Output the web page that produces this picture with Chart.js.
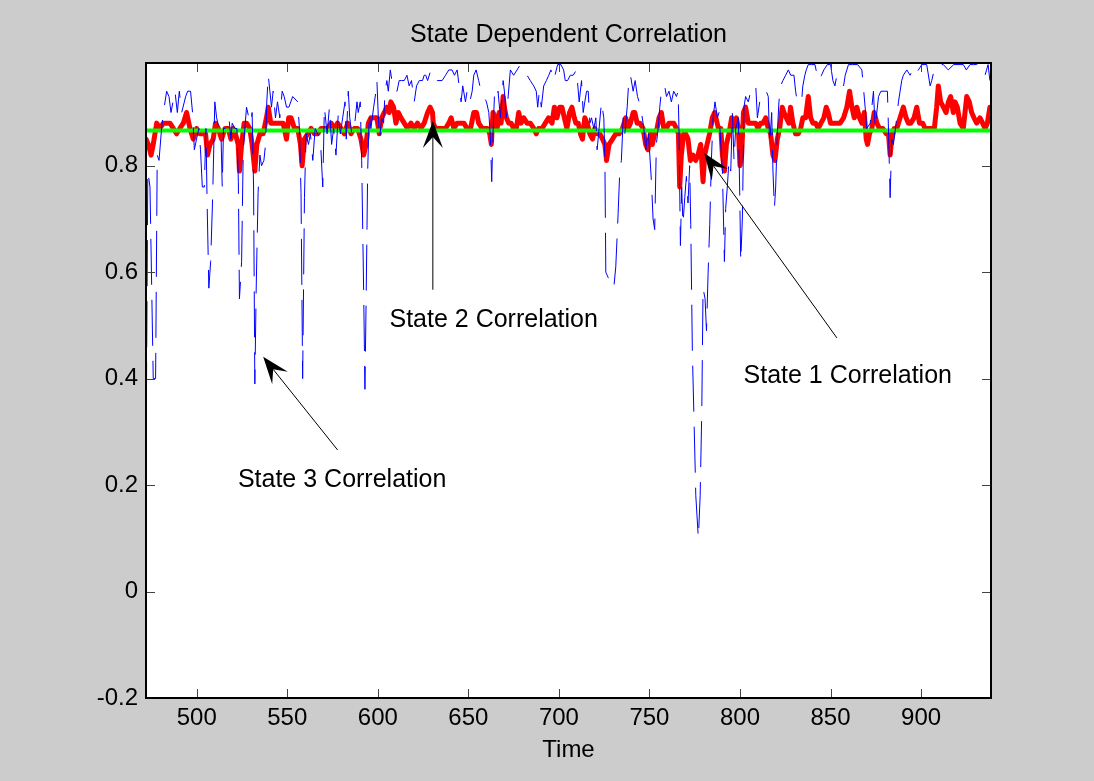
<!DOCTYPE html>
<html><head><meta charset="utf-8">
<script src="https://cdn.jsdelivr.net/npm/chart.js@4.4.1/dist/chart.umd.min.js"></script>
<style>html,body{margin:0;padding:0;background:#cccccc;overflow:hidden}canvas{display:block}</style>
</head><body>
<canvas id="c" width="1094" height="781"></canvas>
<script>
// ---------- data ----------
const chartTitle = 'State Dependent Correlation';
const xTitle = 'Time';
const xTicks = [500, 550, 600, 650, 700, 750, 800, 850, 900];
const yTicks = [-0.2, 0, 0.2, 0.4, 0.6, 0.8];

// thin blue dashed series
const blueTime = [
472,473,474.2,476,477.3,478.2,479.2,480.6,481.6,483.4,484.7,485.8,488,489.3,490.4,491.7,493.9,495,496.6,497.7,
498.7,499.9,501.2,502.1,503.1,504.2,505.1,505.8,506.7,507.7,508.8,510,511,512.3,513.4,514.1,514.8,515.9,517.8,518.9,
519.6,521.1,522.2,523,523.6,524.8,525.7,527.5,528.8,529.9,530.6,531.4,532.1,532.8,533.9,534.9,535.8,537.1,538,538.7,
539.5,540.4,541.3,542.2,543.5,544.6,545.9,547.2,548.3,549.6,550.9,
553.0,555.8,556.7,557.6,558.5,559.5,560.4,561.7,562.8,564.1,565.4,566.8,568.3,569.6,570.5,572.0,573.3,574.5,575.6,576.9,
578.2,579.3,580.6,581.9,582.6,583.7,584.5,585.6,587.0,588.5,589.2,590.3,591.1,592.2,592.9,593.6,594.4,595.3,596.2,597.7,
599.0,599.5,600.3,601.0,602.1,603.2,604.0,605.0,605.8,606.9,608.2,609.1,610.6,611.8,613.1,614.6,616.1,617.3,618.6,620.1,
621.4,622.9,624.7,625.6,626.5,627.5,629.3,
630.9,632.8,635.5,637.4,639.2,641.0,642.3,643.8,645.3,646.0,646.9,648.4,649.3,650.8,652.1,653.0,654.3,655.7,657.0,658.5,
660.0,661.3,662.2,662.9,663.6,664.4,665.5,666.4,667.7,669.2,669.9,671.0,673.2,675.0,676.9,678.7,680.6,682.4,684.2,686.1,
687.5,688.3,689.2,690.3,691.6,693.1,694.4,695.6,697.1,699.3,701.1,702.6,703.5,704.8,706.3,
707.9,709.7,711.2,712.5,713.4,714.3,715.3,716.2,717.1,718.0,719.3,720.4,721.1,722.2,723.5,724.8,725.4,725.9,727.2,729.0,
730.3,731.4,732.7,733.6,734.5,735.5,736.4,737.7,738.6,739.5,741.0,742.1,743.4,744.3,745.6,746.9,748.0,749.2,750.2,751.1,
752.0,752.9,753.8,754.8,755.7,756.6,757.5,758.4,759.4,760.8,762.1,763.4,764.9,765.8,766.3,767.1,767.8,768.5,769.5,770.4,
771.3,772.2,
772.8,773.7,774.7,775.6,777.0,778.0,778.9,779.6,780.7,781.5,782.4,783.3,784.2,785.1,786.2,787.5,788.4,789.4,790.3,791.4,
792.1,793.0,793.9,794.9,795.8,796.7,797.6,799.1,799.8,800.4,801.3,802.2,803.1,804.6,805.9,806.8,807.7,808.7,809.6,810.9,
812.3,813.2,814.5,815.6,816.4,817.5,818.2,819.0,819.7,820.6,821.5,822.4,823.7,825.2,826.7,828.0,829.8,830.7,831.6,832.9,
834.0,834.7,835.8,836.6,837.7,839.5,841.4,842.6,843.9,845.0,846.3,848.2,850.0,851.3,852.4,
853.5,855.3,857.2,858.1,859.9,862,865,867.3,869.1,870.0,871.9,873.7,874.6,876.5,877.8,880.1,881.4,881.9,882.9,883.8,
884.7,886.2,887.5,889.3,890.2,892.1,893.9,895.4,896.7,898.5,900.4,903.1,905.0,905.9,907.2,908.6,910.5,912.3,915,918,
921.5,923.3,925,927.0,929,930.7,932.5,934.4,935.3,937,938];
const blueCorr = [
0.23,0.79,0.76,0.40,0.40,0.82,0.81,0.87,0.90,0.94,0.93,0.90,0.94,0.90,0.94,0.90,0.93,0.94,0.94,0.90,
0.83,0.85,0.87,0.83,0.76,0.76,0.87,0.72,0.57,0.62,0.74,0.92,0.89,0.87,0.86,0.76,0.87,0.87,0.89,0.85,
0.88,0.87,0.87,0.77,0.55,0.62,0.83,0.91,0.89,0.88,0.90,0.76,0.39,0.56,0.75,0.82,0.80,0.81,0.84,0.92,
0.97,0.94,0.91,0.94,0.89,0.92,0.89,0.94,0.93,0.91,0.91,
0.93,0.92,0.87,0.75,0.40,0.74,0.86,0.84,0.86,0.81,0.87,0.86,0.85,0.76,0.91,0.86,0.91,0.84,0.87,0.82,
0.90,0.86,0.89,0.92,0.85,0.94,0.89,0.86,0.87,0.92,0.90,0.92,0.81,0.56,0.38,0.56,0.79,0.90,0.87,0.91,
0.94,0.96,0.89,0.85,0.89,0.88,0.94,0.96,0.94,0.98,0.95,0.94,0.94,0.96,0.96,0.96,0.97,0.95,0.96,0.92,
0.95,0.96,0.96,0.97,0.97,0.96,0.98,
0.97,0.96,0.96,0.97,0.98,0.98,0.97,0.98,0.94,0.92,0.95,0.92,0.94,0.92,0.94,0.97,0.98,0.96,0.94,0.93,
0.92,0.90,0.85,0.77,0.86,0.93,0.92,0.94,0.89,0.96,0.94,0.89,0.98,0.97,0.98,0.99,0.98,0.97,0.96,0.95,
0.94,0.91,0.94,0.91,0.95,0.96,0.97,0.98,0.96,0.99,0.99,0.98,0.96,0.96,0.97,
0.97,0.98,0.92,0.96,0.90,0.92,0.94,0.94,0.88,0.89,0.87,0.89,0.83,0.87,0.92,0.89,0.81,0.60,0.59,0.58,
0.57,0.61,0.71,0.79,0.81,0.89,0.86,0.91,0.96,0.97,0.94,0.96,0.93,0.92,0.90,0.87,0.83,0.87,0.82,0.77,
0.70,0.68,0.84,0.87,0.91,0.94,0.94,0.95,0.93,0.94,0.92,0.94,0.93,0.94,0.87,0.65,0.76,0.69,0.74,0.78,
0.73,0.80,
0.69,0.45,0.31,0.18,0.10,0.18,0.34,0.57,0.55,0.49,0.60,0.69,0.81,0.89,0.92,0.89,0.90,0.84,0.79,0.62,
0.72,0.76,0.81,0.79,0.90,0.81,0.87,0.89,0.76,0.62,0.70,0.91,0.93,0.92,0.94,0.94,0.94,0.95,0.89,0.92,
0.93,0.94,0.94,0.93,0.84,0.90,0.79,0.72,0.76,0.86,0.92,0.95,0.96,0.97,0.98,0.97,0.97,0.94,0.92,0.92,
0.92,0.95,0.97,0.98,0.99,0.99,0.99,0.97,0.96,0.97,0.98,0.99,0.99,0.96,0.95,
0.97,0.96,0.95,0.97,0.99,0.99,0.99,0.98,0.91,0.87,0.88,0.94,0.87,0.93,0.94,0.94,0.94,0.88,0.74,0.85,
0.84,0.88,0.92,0.96,0.97,0.98,0.97,0.98,0.97,0.98,0.99,0.99,0.95,0.96,0.98,0.99,0.99,0.99,0.98,0.99,
0.99,0.99,0.98,0.99,0.99,0.99,0.99,0.98,0.97,0.99,0.96];

// thick red series
const redTime = [
472,473.3,474.8,476.0,477.9,479.7,481.6,483.4,485.2,487.1,488.9,490.7,492.6,494.4,496.3,498.1,499.9,501.8,503.6,504.9,
506.0,507.3,509.1,510.4,511.9,513.7,515.6,517.4,518.9,520.1,521.4,522.9,523.6,524.8,526.2,527.5,529.3,530.6,532.1,533.2,
534.9,536.7,538.5,539.5,540.9,542.2,544.0,545.9,547.7,549.6,550.8,
552.1,554.0,555.8,557.3,558.2,559.5,561.3,563.1,565.0,566.8,568.7,570.5,572.3,574.2,576.0,577.8,579.7,581.5,583.4,585.2,
587.0,588.9,590.7,592.2,593.5,594.8,596.2,598.1,599.5,600.8,602.1,603.6,605.0,606.3,607.2,608.7,610.0,611.3,612.8,614.6,
616.4,618.3,620.1,621.9,623.8,625.6,627.5,628.9,630.2,
630.6,631.9,633.7,635.5,637.4,639.2,640.5,642.0,643.8,645.6,647.5,649.3,651.2,653.0,654.5,655.7,657.6,659.4,660.7,661.8,
662.7,663.6,664.9,665.9,667.0,668.1,669.2,669.9,671.0,672.3,673.6,675.0,676.5,677.8,679.1,680.6,682.4,684.2,686.1,687.5,
688.8,690.7,692.5,694.3,696.2,697.5,698.9,700.4,701.7,703.0,704.4,705.9,707.2,708.5,
709.4,710.7,711.9,713.0,714.3,715.6,717.1,718.6,719.8,721.1,722.6,724.1,725.4,726.3,727.7,729.6,731.4,733.3,735.1,736.9,
738.2,739.5,741.0,741.9,743.2,744.7,746.5,747.9,749.2,750.5,751.6,752.9,754.2,755.3,756.6,757.9,759.4,760.8,762.1,763.4,
764.9,766.0,766.7,767.6,768.9,770.0,771.3,772.6,774.0,775.5,776.8,778.3,779.6,780.5,781.8,783.2,784.7,786.0,
788.1,789.4,790.3,791.4,792.5,793.9,795.4,796.7,798.0,799.1,800.0,800.9,801.9,803.1,804.6,805.9,807.2,808.7,809.9,811.4,
812.7,814.2,815.6,816.9,818.2,819.3,820.6,821.9,823.3,824.3,825.6,827.0,827.9,829.2,830.7,832.2,833.5,834.7,836.2,837.7,
839.0,840.3,841.7,843.2,844.7,846.3,847.6,848.7,850.0,851.3,852.8,
853.5,855.3,857.2,859.0,860.5,861.8,863.1,864.5,866.0,867.3,868.6,869.7,870.4,871.5,872.8,874.1,875.6,877.0,878.9,880.7,
882.0,882.9,883.8,885.1,886.6,888.4,890.2,891.7,893.0,894.3,896.1,897.6,899.1,900.9,902.2,904.0,905.9,907.3,908.6,909.5,
910.8,912.3,913.8,915.1,916.3,917.8,918.7,920.0,921.5,923.3,925.2,926.6,927.9,929.2,930.7,932.5,934.0,935.3,936.6,938];
const redCorr = [
0.85,0.84,0.82,0.84,0.88,0.87,0.88,0.88,0.88,0.87,0.86,0.87,0.88,0.90,0.87,0.85,0.87,0.86,0.86,0.86,
0.82,0.84,0.85,0.88,0.87,0.85,0.87,0.87,0.85,0.87,0.86,0.84,0.79,0.84,0.88,0.88,0.87,0.84,0.79,0.84,
0.86,0.86,0.89,0.91,0.88,0.88,0.88,0.88,0.88,0.85,0.89,
0.89,0.87,0.87,0.84,0.80,0.85,0.86,0.87,0.86,0.86,0.87,0.87,0.87,0.88,0.87,0.88,0.87,0.86,0.88,0.86,
0.87,0.87,0.85,0.82,0.84,0.88,0.89,0.89,0.89,0.86,0.89,0.90,0.91,0.90,0.92,0.91,0.88,0.90,0.89,0.88,
0.87,0.88,0.87,0.88,0.87,0.88,0.90,0.91,0.90,
0.88,0.87,0.87,0.87,0.87,0.88,0.89,0.87,0.88,0.88,0.88,0.87,0.87,0.90,0.90,0.88,0.87,0.87,0.87,0.86,
0.84,0.90,0.89,0.87,0.90,0.88,0.93,0.91,0.89,0.88,0.88,0.87,0.87,0.90,0.88,0.89,0.88,0.88,0.87,0.86,
0.87,0.87,0.88,0.89,0.88,0.91,0.89,0.91,0.91,0.89,0.87,0.90,0.91,0.89,
0.88,0.88,0.86,0.85,0.89,0.88,0.86,0.85,0.87,0.86,0.86,0.85,0.84,0.81,0.84,0.85,0.86,0.86,0.87,0.89,
0.87,0.88,0.90,0.90,0.88,0.88,0.87,0.84,0.83,0.86,0.84,0.86,0.87,0.89,0.90,0.87,0.87,0.88,0.88,0.88,
0.87,0.86,0.76,0.82,0.86,0.86,0.85,0.81,0.82,0.81,0.82,0.84,0.77,0.82,0.84,0.86,0.89,0.90,
0.87,0.87,0.82,0.79,0.84,0.86,0.89,0.87,0.89,0.87,0.80,0.82,0.90,0.91,0.88,0.88,0.88,0.88,0.87,0.88,
0.88,0.89,0.87,0.86,0.82,0.81,0.85,0.87,0.91,0.90,0.89,0.88,0.91,0.88,0.86,0.86,0.87,0.89,0.89,0.93,
0.89,0.88,0.88,0.87,0.88,0.89,0.91,0.90,0.88,0.88,0.88,
0.88,0.88,0.89,0.91,0.94,0.91,0.89,0.91,0.89,0.88,0.90,0.85,0.84,0.86,0.87,0.90,0.88,0.87,0.87,0.86,
0.86,0.82,0.85,0.87,0.87,0.89,0.91,0.89,0.88,0.88,0.89,0.91,0.88,0.88,0.87,0.87,0.87,0.87,0.91,0.95,
0.92,0.91,0.90,0.92,0.93,0.90,0.92,0.91,0.88,0.87,0.93,0.92,0.90,0.89,0.88,0.89,0.88,0.87,0.88,0.91];

// green constant level
const greenTime = [472, 938.6];
const greenCorr = [0.866, 0.866];

// annotations (text and arrow ends in data units)
const noteText = ['State 2 Correlation', 'State 1 Correlation', 'State 3 Correlation'];
const noteX = [664, 859.5, 580.3];
const noteY = [0.51, 0.405, 0.209];
const arrowFromX = [630.4, 853.5, 577.8];
const arrowFromY = [0.567, 0.4765, 0.266];
const arrowToX = [630.4, 780.2, 536.7];
const arrowToY = [0.884, 0.824, 0.441];

// ---------- rendering ----------
const FONT = "'Liberation Sans', Arial, Helvetica, sans-serif";
const pts = (t, v) => t.map((x, i) => ({x: x, y: v[i]}));

function drawArrow(ctx, x0, y0, x1, y1) {
  const ang = Math.atan2(y1 - y0, x1 - x0);
  const ux = Math.cos(ang), uy = Math.sin(ang), px = -uy, py = ux;
  const L = 27, W = 10, N = 16;
  ctx.beginPath();
  ctx.moveTo(x0, y0);
  ctx.lineTo(x1 - ux * N, y1 - uy * N);
  ctx.stroke();
  ctx.beginPath();
  ctx.moveTo(x1, y1);
  ctx.lineTo(x1 - ux * L + px * W, y1 - uy * L + py * W);
  ctx.lineTo(x1 - ux * N, y1 - uy * N);
  ctx.lineTo(x1 - ux * L - px * W, y1 - uy * L - py * W);
  ctx.closePath();
  ctx.fill();
}

const decor = {
  id: 'decor',
  afterLayout(chart) {
    // centre the title over the plotting area, as in the reference
    const tb = chart.titleBlock, a = chart.chartArea;
    if (tb && a) { tb.left = a.left; tb.right = a.right; tb.width = a.right - a.left; }
  },
  beforeDraw(chart) {
    const {ctx, chartArea: a} = chart;
    ctx.save();
    ctx.fillStyle = '#cccccc';
    ctx.fillRect(0, 0, chart.width, chart.height);
    ctx.fillStyle = '#ffffff';
    ctx.fillRect(a.left, a.top, a.right - a.left, a.bottom - a.top);
    ctx.restore();
  },
  afterDatasetsDraw(chart) {
    const {ctx} = chart;
    const xs = chart.scales.x, ys = chart.scales.y;
    ctx.save();
    ctx.strokeStyle = '#000';
    ctx.fillStyle = '#000';
    ctx.lineWidth = 1;
    for (let i = 0; i < noteText.length; i++) {
      drawArrow(ctx,
        xs.getPixelForValue(arrowFromX[i]), ys.getPixelForValue(arrowFromY[i]),
        xs.getPixelForValue(arrowToX[i]), ys.getPixelForValue(arrowToY[i]));
    }
    ctx.font = '25px ' + FONT;
    ctx.textAlign = 'center';
    ctx.textBaseline = 'middle';
    for (let i = 0; i < noteText.length; i++) {
      ctx.fillText(noteText[i], xs.getPixelForValue(noteX[i]), ys.getPixelForValue(noteY[i]));
    }
    ctx.restore();
  },
  afterDraw(chart) {
    const {ctx, chartArea: a} = chart;
    const xs = chart.scales.x, ys = chart.scales.y;
    const tl = 9;
    ctx.save();
    ctx.strokeStyle = '#444';
    ctx.lineWidth = 1;
    ctx.beginPath();
    xTicks.forEach(v => {
      const p = Math.round(xs.getPixelForValue(v)) + 0.5;
      ctx.moveTo(p, a.bottom); ctx.lineTo(p, a.bottom - tl);
      ctx.moveTo(p, a.top); ctx.lineTo(p, a.top + tl);
    });
    yTicks.forEach(v => {
      const p = Math.round(ys.getPixelForValue(v)) + 0.5;
      ctx.moveTo(a.left, p); ctx.lineTo(a.left + tl, p);
      ctx.moveTo(a.right, p); ctx.lineTo(a.right - tl, p);
    });
    ctx.stroke();
    ctx.strokeStyle = '#000';
    ctx.lineWidth = 2;
    ctx.strokeRect(a.left, a.top, a.right - a.left, a.bottom - a.top);
    ctx.restore();
  }
};

new Chart(document.getElementById('c'), {
  type: 'line',
  data: {
    datasets: [
      {label: 'Correlation', data: pts(blueTime, blueCorr), borderColor: '#0000ff', borderWidth: 1,
       borderDash: [46, 15], pointRadius: 0, tension: 0, order: 0},
      {label: 'Level', data: pts(greenTime, greenCorr), borderColor: '#00ff00', borderWidth: 4,
       pointRadius: 0, tension: 0, order: 1},
      {label: 'State Correlation', data: pts(redTime, redCorr), borderColor: '#ff0000', borderWidth: 5,
       pointRadius: 0, tension: 0, borderJoinStyle: 'round', borderCapStyle: 'round', order: 2}
    ]
  },
  options: {
    responsive: false,
    animation: false,
    devicePixelRatio: 1,
    layout: {padding: {left: 0, right: 103, top: 0, bottom: 0}},
    plugins: {
      legend: {display: false},
      tooltip: {enabled: false},
      title: {display: true, text: chartTitle, color: '#000',
              font: {family: FONT, size: 25, weight: 'normal'}, padding: {top: 20, bottom: 13}}
    },
    scales: {
      x: {
        type: 'linear', min: 472, max: 938.6,
        afterBuildTicks: s => { s.ticks = xTicks.map(v => ({value: v})); },
        afterFit: s => { s.height = 83; },
        grid: {display: false, drawTicks: false},
        border: {display: false},
        ticks: {color: '#000', font: {family: FONT, size: 24}, padding: 6, maxRotation: 0, autoSkip: false,
                callback: v => String(v)},
        title: {display: true, text: xTitle, color: '#000', font: {family: FONT, size: 24},
                padding: {top: 0, bottom: 16}}
      },
      y: {
        min: -0.2, max: 0.993,
        afterBuildTicks: s => { s.ticks = yTicks.map(v => ({value: v})); },
        afterFit: s => { s.width = 146; },
        grid: {display: false, drawTicks: false},
        border: {display: false},
        ticks: {color: '#000', font: {family: FONT, size: 24}, padding: 8, autoSkip: false,
                callback: v => (Math.abs(v) < 1e-9 ? '0' : v.toFixed(1))}
      }
    }
  },
  plugins: [decor]
});
</script>
</body></html>
